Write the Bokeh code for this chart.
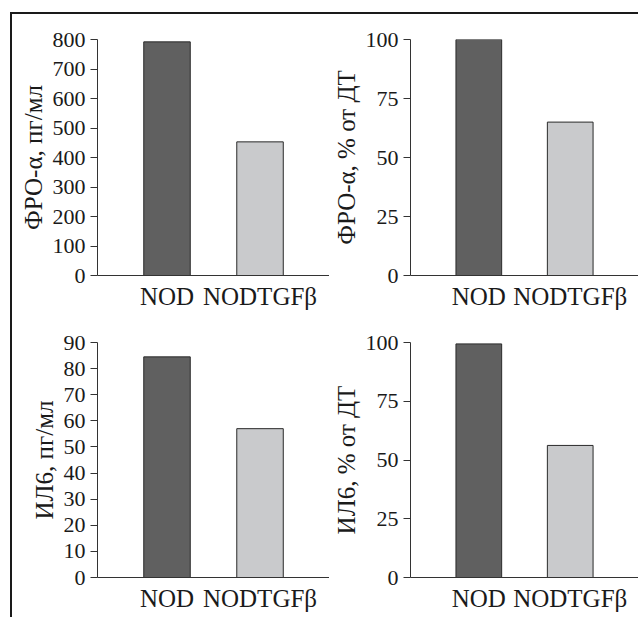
from bokeh.plotting import figure
from bokeh.layouts import column, row
from bokeh.models import Range1d, FixedTicker, ColumnDataSource
from bokeh.embed import file_html
from bokeh.resources import INLINE

categories = ["NOD", "NODTGFβ"]
tnf_pg = [792, 453]
tnf_pct = [100, 65]
il6_pg = [84.5, 57.0]
il6_pct = [99.4, 56.2]
colors = ["#606060", "#c9cacc"]

tnf_pg_ticks = [0, 100, 200, 300, 400, 500, 600, 700, 800]
pct_ticks = [0, 25, 50, 75, 100]
il6_pg_ticks = [0, 10, 20, 30, 40, 50, 60, 70, 80, 90]

FONT = "'Liberation Serif', 'Times New Roman', serif"
TXT = "#1a1a1a"


def make(values, ticks, ylabel, width, height, left, top, bottom, xend):
    xs = [i + 1 for i in range(len(categories))]
    src = ColumnDataSource(dict(x=xs, top=values, color=colors))
    p = figure(width=width, height=height, output_backend="svg", toolbar_location=None,
               x_range=Range1d(0.2527, xend), y_range=Range1d(0, ticks[-1]),
               min_border_left=left, min_border_right=0, min_border_top=top,
               min_border_bottom=bottom)
    p.vbar(x="x", top="top", width=0.5, fill_color="color", line_color="#2a2a2a",
           line_width=1, source=src)
    p.xgrid.visible = False
    p.ygrid.visible = False
    p.outline_line_color = None
    p.background_fill_color = "white"
    p.border_fill_color = "white"

    ya = p.yaxis[0]
    ya.ticker = FixedTicker(ticks=ticks)
    ya.minor_tick_line_color = None
    ya.major_tick_in = 0
    ya.major_tick_out = 7
    ya.major_tick_line_color = "#333333"
    ya.axis_line_color = "#333333"
    ya.major_label_standoff = 5
    ya.major_label_text_font = FONT
    ya.major_label_text_font_size = "22px"
    ya.major_label_text_color = TXT
    ya.axis_label = ylabel
    ya.axis_label_text_font = FONT
    ya.axis_label_text_font_size = "25px"
    ya.axis_label_text_font_style = "normal"
    ya.axis_label_text_color = TXT
    ya.axis_label_standoff = 3

    xa = p.xaxis[0]
    xa.ticker = FixedTicker(ticks=xs)
    xa.major_label_overrides = {x: c for x, c in zip(xs, categories)}
    xa.minor_tick_line_color = None
    xa.major_tick_line_color = None
    xa.axis_line_color = "#333333"
    xa.major_label_standoff = 1
    xa.major_label_text_font = FONT
    xa.major_label_text_font_size = "25px"
    xa.major_label_text_color = TXT
    return p


p1 = make(tnf_pg, tnf_pg_ticks, "ФРО-α, пг/мл", 317, 304, 85, 25, 43, 2.747)
p2 = make(tnf_pct, pct_ticks, "ФРО-α, % от ДТ", 309, 304, 77, 25, 43, 2.747)
p3 = make(il6_pg, il6_pg_ticks, "ИЛ6, пг/мл", 317, 299, 85, 24, 40, 2.747)
p4 = make(il6_pct, pct_ticks, "ИЛ6, % от ДТ", 309, 299, 77, 24, 40, 2.747)

layout = column(row(p1, p2), row(p3, p4),
                styles={"margin-left": "10px", "margin-top": "12px",
                        "border-left": "2px solid #1a1a1a",
                        "border-top": "2px solid #1a1a1a"})

open("out.html", "w").write(file_html(layout, INLINE))
